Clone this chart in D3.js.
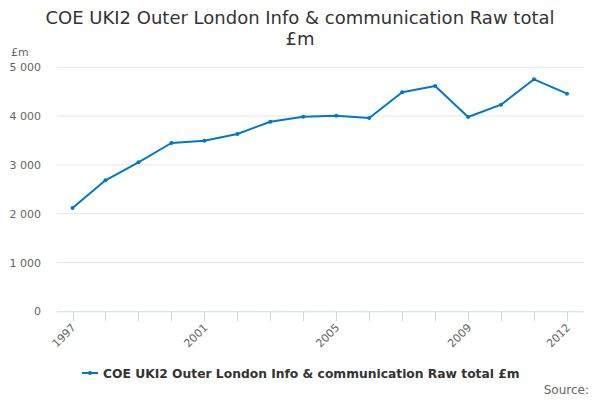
<!DOCTYPE html>
<html><head><meta charset="utf-8">
<script src="https://cdn.jsdelivr.net/npm/d3@7"></script>
<style>body{margin:0;background:#fff}svg{font-family:"DejaVu Sans",sans-serif}</style>
</head><body>
<svg id="c" width="600" height="400"></svg>
<script>
const years = [1997,1998,1999,2000,2001,2002,2003,2004,2005,2006,2007,2008,2009,2010,2011,2012];
const values = [2115,2684,3053,3449,3496,3633,3885,3988,4008,3961,4488,4617,3982,4234,4754,4459];
const yTicks = [0,1000,2000,3000,4000,5000];
const xLabels = [1997,2001,2005,2009,2012];
const seriesName = "COE UKI2 Outer London Info & communication Raw total £m";

const svg = d3.select("#c");
const L=56.7, R=583.7, T=67.3, B=311.3;
const xs = d3.scaleLinear().domain([1997,2012]).range([72.5,567]);
const y = d3.scaleLinear().domain([0,5000]).range([B,T]);
const fmt = v => d3.format(",")(v).replace(/,/g," ");

svg.append("g").selectAll("line").data(yTicks.filter(d=>d>0)).join("line")
  .attr("x1",L).attr("x2",R).attr("y1",d=>y(d)).attr("y2",d=>y(d))
  .attr("stroke","#e6e6e6").attr("stroke-width",1);

svg.append("line").attr("x1",L).attr("x2",R).attr("y1",B+0.5).attr("y2",B+0.5).attr("stroke","#ccd6eb");
svg.append("g").selectAll("line").data(years).join("line")
  .attr("x1",d=>Math.round(xs(d))+0.5).attr("x2",d=>Math.round(xs(d))+0.5)
  .attr("y1",B).attr("y2",B+10).attr("stroke","#ccd6eb");

svg.append("g").selectAll("text").data(yTicks).join("text")
  .attr("x",41).attr("y",d=>y(d)+4).attr("text-anchor","end")
  .attr("font-size",11).attr("fill","#666").text(fmt);

svg.append("text").attr("x",11).attr("y",56).attr("font-size",11).attr("fill","#666").text("£m");

svg.append("g").selectAll("text").data(xLabels).join("text")
  .attr("transform",d=>`translate(${xs(d)+4},${B+17}) rotate(-45)`)
  .attr("text-anchor","end").attr("font-size",11).attr("fill","#666").text(d=>d);

const line = d3.line().x((d,i)=>xs(years[i])).y(d=>y(d));
svg.append("path").datum(values).attr("d",line).attr("fill","none")
  .attr("stroke","#0077c8").attr("stroke-width",2).attr("stroke-linejoin","round");
svg.append("g").selectAll("circle").data(values).join("circle")
  .attr("cx",(d,i)=>xs(years[i])).attr("cy",d=>y(d)).attr("r",2).attr("fill","#0077c8");

svg.append("text").attr("x",300).attr("y",24).attr("text-anchor","middle")
  .attr("font-size",18).attr("fill","#333").text("COE UKI2 Outer London Info & communication Raw total");
svg.append("text").attr("x",300).attr("y",45).attr("text-anchor","middle")
  .attr("font-size",18).attr("fill","#333").text("£m");

const lg = svg.append("g");
lg.append("line").attr("x1",82).attr("x2",98).attr("y1",373).attr("y2",373).attr("stroke","#0077c8").attr("stroke-width",2);
lg.append("circle").attr("cx",90).attr("cy",373).attr("r",2).attr("fill","#0077c8");
lg.append("text").attr("x",103).attr("y",377.5).attr("font-size",12.3).attr("font-weight","bold").attr("fill","#333").text(seriesName);

svg.append("text").attr("x",589).attr("y",394).attr("text-anchor","end").attr("font-size",12).attr("fill","#666").text("Source:");
</script>
</body></html>
